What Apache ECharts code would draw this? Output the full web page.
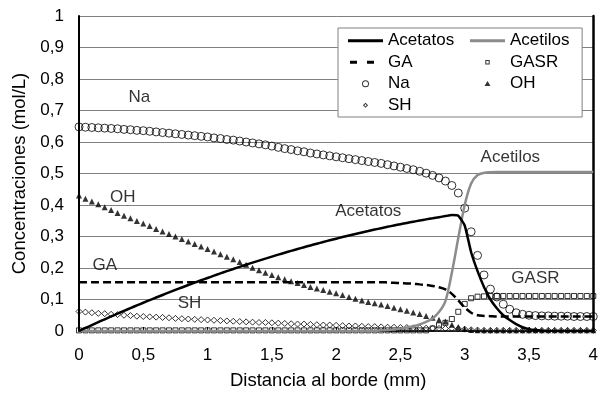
<!DOCTYPE html>
<html><head><meta charset="utf-8">
<script src="https://cdn.jsdelivr.net/npm/echarts@6/dist/echarts.min.js"></script>
<style>html,body{margin:0;padding:0;background:#fff}#c{width:601px;height:403px}</style>
</head><body><div id="c"></div>
<script>
// Distance from the edge (mm)
const xs = [0,0.05,0.1,0.15,0.2,0.25,0.3,0.35,0.4,0.45,
 0.5,0.55,0.6,0.65,0.7,0.75,0.8,0.85,0.9,0.95,
 1,1.05,1.1,1.15,1.2,1.25,1.3,1.35,1.4,1.45,
 1.5,1.55,1.6,1.65,1.7,1.75,1.8,1.85,1.9,1.95,
 2,2.05,2.1,2.15,2.2,2.25,2.3,2.35,2.4,2.45,
 2.5,2.55,2.6,2.65,2.7,2.75,2.8,2.85,2.9,2.95,
 3,3.05,3.1,3.15,3.2,3.25,3.3,3.35,3.4,3.45,
 3.5,3.55,3.6,3.65,3.7,3.75,3.8,3.85,3.9,3.95,4];

const acetatos = [0,0.0095,0.0188,0.028,0.0372,0.0462,0.0551,0.0639,0.0726,0.0812,
 0.0897,0.098,0.1063,0.1144,0.1224,0.1304,0.1382,0.1459,0.1535,0.161,
 0.1684,0.1757,0.1828,0.1899,0.1968,0.2037,0.2104,0.217,0.2235,0.2299,
 0.2362,0.2424,0.2484,0.2544,0.2603,0.266,0.2716,0.2771,0.2826,0.2879,
 0.2931,0.2982,0.3032,0.308,0.3128,0.3174,0.322,0.3264,0.3307,0.335,
 0.3391,0.3431,0.3469,0.3507,0.3544,0.3579,0.3614,0.3648,0.368,0.366,
 0.335,0.25,0.19,0.14,0.1,0.072,0.05,0.035,0.022,0.012,
 0.006,0.003,0.001,0,0,0,0,0,0,0,0];

const acetilos = [0,0,0,0,0,0,0,0,0,0,
 0,0,0,0,0,0,0,0,0,0,
 0,0,0,0,0,0,0,0,0,0,
 0,0,0,0,0,0,0,0,0,0,
 0,0,0,0,0,0,0,0.002,0.003,0.005,
 0.008,0.011,0.015,0.021,0.029,0.04,0.06,0.095,0.185,0.295,
 0.4,0.468,0.495,0.502,0.504,0.505,0.505,0.505,0.505,0.505,
 0.505,0.505,0.505,0.505,0.505,0.505,0.505,0.505,0.505,0.505,0.505];

const ga = [0.155,0.155,0.155,0.155,0.155,0.155,0.155,0.155,0.155,0.155,
 0.155,0.155,0.155,0.155,0.155,0.155,0.155,0.155,0.155,0.155,
 0.155,0.155,0.155,0.155,0.155,0.155,0.155,0.155,0.155,0.155,
 0.155,0.155,0.155,0.155,0.155,0.155,0.155,0.155,0.155,0.155,
 0.155,0.155,0.155,0.155,0.155,0.155,0.155,0.155,0.154,0.153,
 0.152,0.151,0.15,0.148,0.146,0.143,0.139,0.132,0.118,0.097,
 0.075,0.058,0.05,0.048,0.047,0.046,0.046,0.046,0.046,0.046,
 0.046,0.046,0.046,0.046,0.046,0.046,0.046,0.046,0.046,0.046,0.046];

const gasr = [0.002,0.002,0.002,0.002,0.002,0.002,0.002,0.002,0.002,0.002,
 0.002,0.002,0.002,0.002,0.002,0.002,0.002,0.002,0.002,0.002,
 0.002,0.002,0.002,0.002,0.002,0.002,0.002,0.002,0.002,0.002,
 0.002,0.002,0.002,0.002,0.002,0.002,0.002,0.002,0.002,0.002,
 0.002,0.002,0.002,0.002,0.002,0.002,0.002,0.002,0.002,0.002,
 0.002,0.002,0.002,0.002,0.002,0.008,0.018,0.026,0.038,0.061,
 0.086,0.104,0.109,0.11,0.111,0.111,0.111,0.111,0.111,0.111,
 0.111,0.111,0.111,0.111,0.111,0.111,0.111,0.111,0.111,0.111,0.111];

const na = [0.648,0.647,0.646,0.645,0.644,0.643,0.642,0.64,0.639,0.637,
 0.636,0.634,0.632,0.63,0.628,0.626,0.624,0.622,0.62,0.618,
 0.616,0.613,0.611,0.608,0.606,0.603,0.6,0.597,0.594,0.591,
 0.587,0.583,0.579,0.576,0.572,0.569,0.565,0.562,0.559,0.556,
 0.553,0.55,0.547,0.544,0.541,0.538,0.535,0.532,0.528,0.524,
 0.52,0.516,0.512,0.507,0.501,0.494,0.486,0.476,0.462,0.438,
 0.39,0.315,0.24,0.178,0.133,0.108,0.085,0.069,0.058,0.053,
 0.05,0.049,0.048,0.048,0.047,0.047,0.047,0.046,0.046,0.046,0.046];

const oh = [0.43,0.42,0.411,0.402,0.393,0.384,0.375,0.366,0.358,0.349,
 0.341,0.333,0.324,0.316,0.308,0.3,0.292,0.284,0.276,0.268,
 0.26,0.252,0.244,0.236,0.228,0.219,0.21,0.201,0.193,0.185,
 0.178,0.171,0.164,0.158,0.152,0.146,0.14,0.135,0.13,0.125,
 0.12,0.114,0.108,0.102,0.097,0.092,0.088,0.084,0.079,0.074,
 0.069,0.064,0.059,0.054,0.048,0.042,0.036,0.03,0.02,0.013,
 0.006,0.003,0.002,0.002,0.002,0.002,0.002,0.002,0.002,0.002,
 0.002,0.002,0.002,0.002,0.002,0.002,0.002,0.002,0.002,0.002,0.002];

const sh = [0.062,0.06,0.058,0.056,0.055,0.053,0.052,0.05,0.049,0.047,
 0.046,0.045,0.044,0.043,0.042,0.04,0.039,0.038,0.037,0.036,
 0.035,0.034,0.033,0.032,0.031,0.03,0.029,0.028,0.027,0.027,
 0.026,0.025,0.024,0.023,0.022,0.022,0.021,0.02,0.019,0.019,
 0.018,0.017,0.016,0.016,0.015,0.014,0.014,0.013,0.012,0.012,
 0.011,0.011,0.01,0.01,0.009,0.009,0.008,0.008,0.008,0.007,
 0.006,0.004,0.003,0.002,0.002,0.002,0.002,0.002,0.002,0.002,
 0.002,0.002,0.002,0.002,0.002,0.002,0.002,0.002,0.002,0.002,0.002];

// In-plot annotations (data coordinates)
const annotations = [
  ['Na', 0.47, 0.743],
  ['OH', 0.34, 0.424],
  ['GA', 0.2, 0.21],
  ['SH', 0.86, 0.088],
  ['Acetatos', 2.25, 0.379],
  ['Acetilos', 3.355, 0.551],
  ['GASR', 3.55, 0.167]
];

const F = '"Liberation Sans", Arial, sans-serif';
const pairs = arr => xs.map((x, i) => [x, arr[i]]);
const fmt = v => String(Math.round(v * 10) / 10).replace('.', ',');
const hollow = {color: 'rgba(0,0,0,0)', borderColor: '#000', borderWidth: 1};

// Legend icons, all in a 35x8 box (tiny corner specks fix the box extent)
const box = 'M0,0h0.05v0.05h-0.05z M34.95,7.95h0.05v0.05h-0.05z ';
const ico = {
  line: 'path://' + box + 'M0,2.6h35v2.8h-35z',
  dash: 'path://' + box + 'M2,2.6h7v2.8h-7z M19,2.6h7v2.8h-7z',
  circle: 'path://' + box + 'M14,4a3.5,3.5 0 1,0 7,0a3.5,3.5 0 1,0 -7,0z M15,4a2.5,2.5 0 1,1 5,0a2.5,2.5 0 1,1 -5,0z',
  diamond: 'path://' + box + 'M17.5,1.4L20.1,4L17.5,6.6L14.9,4z M17.5,2.8L16.3,4L17.5,5.2L18.7,4z',
  square: 'path://' + box + 'M15.3,1.8h4.4v4.4h-4.4z M16.3,2.8v2.4h2.4v-2.4z',
  triangle: 'path://' + box + 'M17.5,1.3L20.5,6.2L14.5,6.2z'
};
const blk = {color: '#000', borderWidth: 0};

const chart = echarts.init(document.getElementById('c'), null, {renderer: 'canvas'});
const textBase = {fontFamily: F, color: '#000'};

chart.setOption({
  animation: false,
  backgroundColor: '#fff',
  grid: {left: 79, right: 4, top: 16, bottom: 72, containLabel: false},
  legend: [
    {
      orient: 'vertical', left: 338, top: 28, padding: [2, 128, 1, 10],
      itemWidth: 35, itemHeight: 8, itemGap: 0,
      backgroundColor: '#fff', borderColor: '#808080', borderWidth: 1,
      textStyle: Object.assign({fontSize: 17, lineHeight: 21.5}, textBase),
      selectedMode: false,
      data: [
        {name: 'Acetatos', icon: ico.line},
        {name: 'GA', icon: ico.dash},
        {name: 'Na', icon: ico.circle, itemStyle: blk},
        {name: 'SH', icon: ico.diamond, itemStyle: blk}
      ]
    },
    {
      orient: 'vertical', left: 470, top: 30, padding: 0, z: 6,
      itemWidth: 35, itemHeight: 8, itemGap: 0,
      textStyle: Object.assign({fontSize: 17, lineHeight: 21.5}, textBase),
      selectedMode: false,
      data: [
        {name: 'Acetilos', icon: ico.line},
        {name: 'GASR', icon: ico.square, itemStyle: blk},
        {name: 'OH', icon: ico.triangle, itemStyle: blk}
      ]
    }
  ],
  xAxis: {
    type: 'value', min: 0, max: 4, interval: 0.5,
    axisLine: {lineStyle: {color: '#000', width: 1.5}},
    axisTick: {show: true, inside: true, length: 4, lineStyle: {color: '#000', width: 1}},
    splitLine: {show: false},
    axisLabel: Object.assign({fontSize: 17, margin: 16, formatter: fmt}, textBase),
    name: 'Distancia al borde (mm)', nameLocation: 'middle', nameGap: 40,
    nameTextStyle: Object.assign({fontSize: 18.5, padding: [0, 16, 0, 0]}, textBase)
  },
  yAxis: [
    {
      type: 'value', min: 0, max: 1, interval: 0.1,
      axisLine: {show: true, lineStyle: {color: '#000', width: 2}},
      axisTick: {show: false},
      splitLine: {show: true, lineStyle: {color: '#808080', width: 1}},
      axisLabel: Object.assign({fontSize: 17, margin: 15, formatter: fmt}, textBase),
      name: 'Concentraciones (mol/L)', nameLocation: 'middle', nameGap: 48,
      nameTextStyle: Object.assign({fontSize: 18.5}, textBase)
    },
    {
      type: 'value', min: 0, max: 1, position: 'right',
      axisLine: {show: true, lineStyle: {color: '#000', width: 2.5}},
      axisTick: {show: false}, axisLabel: {show: false}, splitLine: {show: false}
    }
  ],
  series: [
    {name: 'GASR', type: 'scatter', data: pairs(gasr), symbol: 'rect', symbolSize: 5, itemStyle: hollow, z: 3},
    {name: 'SH', type: 'scatter', data: pairs(sh), symbol: 'diamond', symbolSize: 6, itemStyle: hollow, z: 3},
    {name: 'OH', type: 'scatter', data: pairs(oh), symbol: 'triangle', symbolSize: 6, itemStyle: {color: '#000'}, z: 3},
    {name: 'Na', type: 'scatter', data: pairs(na), symbol: 'circle', symbolSize: 8, itemStyle: hollow, z: 3},
    {name: 'GA', type: 'line', data: pairs(ga), symbol: 'none', smooth: 0.3,
      lineStyle: {color: '#000', width: 2.5, type: [8, 4]}, itemStyle: {color: '#000'}, z: 4},
    {name: 'Acetilos', type: 'line', data: pairs(acetilos), symbol: 'none', smooth: 0.3,
      lineStyle: {color: '#8c8c8c', width: 2.5}, itemStyle: {color: '#8c8c8c'}, z: 4},
    {name: 'Acetatos', type: 'line', data: pairs(acetatos), symbol: 'none', smooth: 0.15,
      lineStyle: {color: '#000', width: 2.5}, itemStyle: {color: '#000'}, z: 5},
    {name: 'labels', type: 'scatter', silent: true, symbolSize: 0, z: 6,
      data: annotations.map(a => [a[1], a[2], a[0]]),
      label: Object.assign({show: true, position: 'inside', fontSize: 17,
        formatter: p => p.data[2]}, textBase)}
  ]
});
</script>
</body></html>
